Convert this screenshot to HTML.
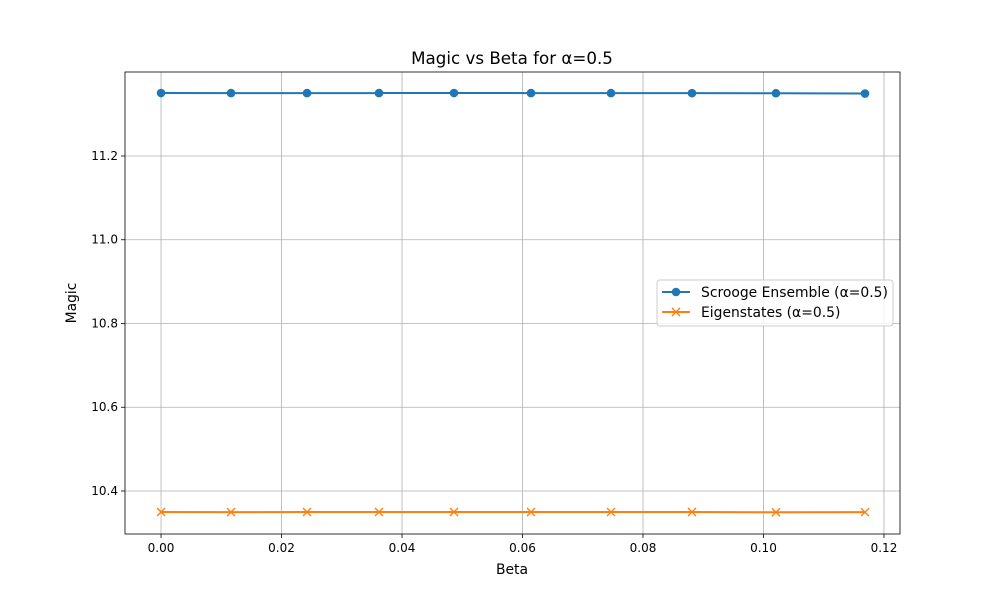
<!DOCTYPE html>
<html><head><meta charset="utf-8"><style>
body{margin:0;background:#fff;font-family:"Liberation Sans","DejaVu Sans",sans-serif;}
</style></head><body>
<svg id="chart" width="1000" height="600" xmlns="http://www.w3.org/2000/svg" font-family="'DejaVu Sans','Liberation Sans',sans-serif">
<rect width="1000" height="600" fill="#fff"/>
<g id="grid"></g><g id="series"></g><g id="axes"></g>
</svg>
<script>
const betas=[0,0.01162,0.02423,0.03618,0.04863,0.06141,0.07469,0.08813,0.10207,0.11685];
const scrooge=[11.3504,11.3503,11.3503,11.3503,11.3504,11.3503,11.3502,11.3501,11.3499,11.3492];
const eigen=[10.3498,10.3496,10.3498,10.3499,10.3499,10.3498,10.3497,10.3498,10.3493,10.3494];
const xTicks=[0,0.02,0.04,0.06,0.08,0.10,0.12];
const xTickLabels=["0.00","0.02","0.04","0.06","0.08","0.10","0.12"];
const yTicks=[10.4,10.6,10.8,11.0,11.2];
const yTickLabels=["10.4","10.6","10.8","11.0","11.2"];
const L=125,R=900,T=72,B=534;
const x0=-0.00598,x1=0.12266,y0=10.2973,y1=11.4006;
const sx=v=>L+(v-x0)/(x1-x0)*(R-L);
const sy=v=>B-(v-y0)/(y1-y0)*(B-T);
const NS="http://www.w3.org/2000/svg";
function mk(tag,attrs,parent,text){const e=document.createElementNS(NS,tag);for(const k in attrs)e.setAttribute(k,attrs[k]);if(text!=null)e.textContent=text;parent.appendChild(e);return e;}
const grid=document.getElementById('grid'),axes=document.getElementById('axes'),series=document.getElementById('series');
xTicks.forEach((t,i)=>{const x=sx(t);
 const g=mk('line',{x1:x,x2:x,y1:T,y2:B,stroke:'#b0b0b0','stroke-width':0.8},grid);
 
 
 mk('line',{x1:x,x2:x,y1:B,y2:B+4,stroke:'#000','stroke-width':0.8},axes);
 const l=mk('text',{x:x,y:B+18,'font-size':12,'text-anchor':'middle'},axes,xTickLabels[i]);
 
 
});
yTicks.forEach((t,i)=>{const y=sy(t);
 const g=mk('line',{x1:L,x2:R,y1:y,y2:y,stroke:'#b0b0b0','stroke-width':0.8},grid);
 
 
 mk('line',{x1:L-4,x2:L,y1:y,y2:y,stroke:'#000','stroke-width':0.8},axes);
 const l=mk('text',{x:L-7,y:y+4,'font-size':12,'text-anchor':'end'},axes,yTickLabels[i]);
 
 
});
const frame=mk('rect',{x:L,y:T,width:R-L,height:B-T,fill:'none',stroke:'#000','stroke-width':0.8},axes);


const t=mk('text',{x:512,y:64,'font-size':16.7,'text-anchor':'middle'},axes,'Magic vs Beta for α=0.5');


const xt=mk('text',{x:512,y:574,'font-size':13.9,'text-anchor':'middle'},axes,'Beta');


const yt=mk('text',{x:76,y:303,'font-size':13.9,'text-anchor':'middle',transform:'rotate(-90 76 303)'},axes,'Magic');


function xmark(p,cx,cy,c){mk('path',{d:`M${cx-4},${cy-4}L${cx+4},${cy+4}M${cx-4},${cy+4}L${cx+4},${cy-4}`,stroke:c,'stroke-width':1.4},p);}
const s1=mk('polyline',{points:betas.map((b,i)=>sx(b)+','+sy(scrooge[i])).join(' '),fill:'none',stroke:'#1f77b4','stroke-width':2},series);


betas.forEach((b,i)=>{const c=mk('circle',{cx:sx(b),cy:sy(scrooge[i]),r:4.3,fill:'#1f77b4'},series);
 
 });
const s2=mk('polyline',{points:betas.map((b,i)=>sx(b)+','+sy(eigen[i])).join(' '),fill:'none',stroke:'#ff7f0e','stroke-width':2},series);


betas.forEach((b,i)=>{const g=mk('g',{},series);
 
 
 xmark(g,sx(b),sy(eigen[i]),'#ff7f0e');});
const lg=mk('g',{},axes);


mk('rect',{x:657,y:280,width:236,height:46,rx:3,fill:'#fff','fill-opacity':0.8,stroke:'#ccc'},lg);
const e1=mk('g',{},lg);


mk('line',{x1:662,x2:690,y1:292,y2:292,stroke:'#1f77b4','stroke-width':2},e1);
mk('circle',{cx:676,cy:292,r:4.3,fill:'#1f77b4'},e1);
mk('text',{x:701,y:297,'font-size':13.9},e1,'Scrooge Ensemble (α=0.5)');
const e2=mk('g',{},lg);


mk('line',{x1:662,x2:690,y1:312,y2:312,stroke:'#ff7f0e','stroke-width':2},e2);
xmark(e2,676,312,'#ff7f0e');
mk('text',{x:701,y:317,'font-size':13.9},e2,'Eigenstates (α=0.5)');
</script>
</body></html>
